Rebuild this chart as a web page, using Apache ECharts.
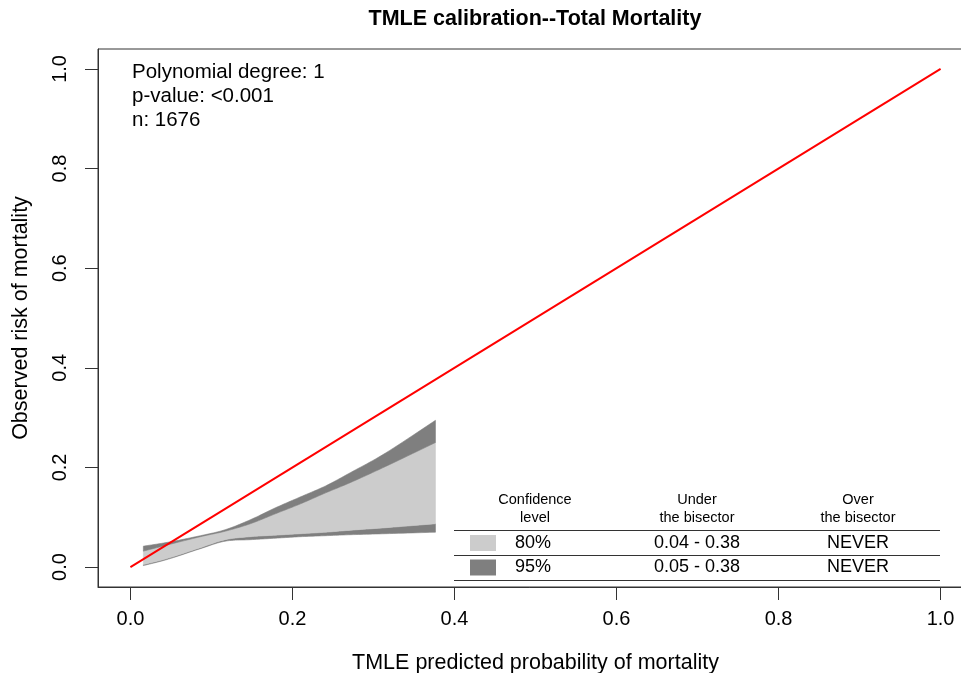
<!DOCTYPE html>
<html><head><meta charset="utf-8">
<script src="https://cdn.jsdelivr.net/npm/echarts@6/dist/echarts.min.js"></script>
<style>html,body{margin:0;padding:0;background:#fff}#c{width:961px;height:673px}</style>
</head><body><div id="c"></div>
<script>
// ---- data ----
const xPts    = [0.016, 0.047, 0.0864, 0.117, 0.148, 0.179, 0.210, 0.241, 0.272, 0.315, 0.3765];
const upper95 = [0.042, 0.050, 0.063,  0.075, 0.095, 0.119, 0.141, 0.163, 0.190, 0.229, 0.2945];
const upper80 = [0.032, 0.045, 0.061,  0.072, 0.087, 0.107, 0.127, 0.149, 0.170, 0.202, 0.250];
const lower80 = [0.005, 0.018, 0.039,  0.055, 0.061, 0.064, 0.067, 0.070, 0.074, 0.079, 0.087];
const lower95 = [0.003, 0.016, 0.037,  0.052, 0.055, 0.058, 0.061, 0.063, 0.065, 0.067, 0.070];
const bisectorX = [0, 1];
const bisectorY = [0, 1];
const xTicks = [0, 0.2, 0.4, 0.6, 0.8, 1.0];
const yTicks = [0, 0.2, 0.4, 0.6, 0.8, 1.0];
const annotations = ['Polynomial degree: 1', 'p-value: <0.001', 'n: 1676'];
const tableHeader = ['Confidence\nlevel', 'Under\nthe bisector', 'Over\nthe bisector'];
const tableRows = [['80%', '0.04 - 0.38', 'NEVER'], ['95%', '0.05 - 0.38', 'NEVER']];
const titleText = 'TMLE calibration--Total Mortality';
const xName = 'TMLE predicted probability of mortality';
const yName = 'Observed risk of mortality';

// ---- styles ----
const LIGHT = '#cccccc', DARK = '#7f7f7f', AX = '#333333';
const FONT = "'Liberation Sans', Arial, sans-serif";

const bands = [
  { lo: lower95, hi: lower80, color: DARK },
  { lo: lower80, hi: upper80, color: LIGHT },
  { lo: upper80, hi: upper95, color: DARK }
];

// smooth a pixel-space polyline (Catmull-Rom -> cubic Bezier), rendering only
function smoothPx(p) {
  const out = [p[0]];
  for (let i = 0; i < p.length - 1; i++) {
    const p0 = p[i - 1] || p[i], p1 = p[i], p2 = p[i + 1], p3 = p[i + 2] || p[i + 1];
    const c1 = [p1[0] + (p2[0] - p0[0]) / 6, p1[1] + (p2[1] - p0[1]) / 6];
    const c2 = [p2[0] - (p3[0] - p1[0]) / 6, p2[1] - (p3[1] - p1[1]) / 6];
    for (let s = 1; s <= 12; s++) {
      const t = s / 12, u = 1 - t;
      out.push([
        u*u*u*p1[0] + 3*u*u*t*c1[0] + 3*u*t*t*c2[0] + t*t*t*p2[0],
        u*u*u*p1[1] + 3*u*u*t*c1[1] + 3*u*t*t*c2[1] + t*t*t*p2[1]
      ]);
    }
  }
  return out;
}

const chart = echarts.init(document.getElementById('c'), null, { renderer: 'canvas' });

const colX = [535, 697, 858];
const swatchColors = [LIGHT, DARK];
const graphics = [];
const txt = (x, y, t, font, align, extra) => ({ type: 'text', x, y, z: 10, style: Object.assign({ text: t, font, fill: '#000', align, textAlign: align, verticalAlign: 'middle', textVerticalAlign: 'middle' }, extra || {}) });
graphics.push(txt(535, 19, titleText, 'bold 21.5px ' + FONT, 'center'));
annotations.forEach((t, i) => graphics.push(txt(132, 72 + i * 24, t, '20.5px ' + FONT, 'left')));
tableHeader.forEach((t, i) => graphics.push(txt(colX[i], 509, t, '14.5px ' + FONT, 'center', { lineHeight: 18 })));
[530.5, 555.5, 580.5].forEach(y => graphics.push({ type: 'line', z: 10, shape: { x1: 454, y1: y, x2: 940, y2: y }, style: { stroke: AX, lineWidth: 1 } }));
tableRows.forEach((row, r) => {
  const yc = 543 + r * 24.5;
  graphics.push({ type: 'rect', z: 10, shape: { x: 470, y: yc - 8, width: 26, height: 16 }, style: { fill: swatchColors[r] } });
  row.forEach((t, i) => graphics.push(txt(colX[i] - (i === 0 ? 2 : 0), yc, t, '18px ' + FONT, 'center')));
});

const option = {
  animation: false,
  backgroundColor: '#fff',
  grid: { left: 98, top: 49, width: 875, height: 538, containLabel: false, outerBoundsMode: 'none', show: true, borderColor: AX, borderWidth: 1, backgroundColor: 'transparent' },
  xAxis: {
    type: 'value', min: -0.04, max: 1.04,
    name: xName, nameLocation: 'middle', nameGap: 65,
    nameTextStyle: { fontSize: 21.5, fontFamily: FONT, color: '#000' },
    axisLine: { show: true, onZero: false, lineStyle: { color: AX, width: 1 } },
    axisTick: { show: true, inside: false, length: 13, customValues: xTicks, lineStyle: { color: AX } },
    axisLabel: { customValues: xTicks, formatter: v => v.toFixed(1), fontSize: 20, fontFamily: FONT, color: '#000', margin: 22 },
    splitLine: { show: false }
  },
  yAxis: {
    type: 'value', min: -0.04, max: 1.04,
    name: yName, nameLocation: 'middle', nameGap: 66, nameRotate: 90,
    nameTextStyle: { fontSize: 21.5, fontFamily: FONT, color: '#000' },
    axisLine: { show: true, onZero: false, lineStyle: { color: AX, width: 1 } },
    axisTick: { show: true, inside: false, length: 13, customValues: yTicks, lineStyle: { color: AX } },
    axisLabel: { customValues: yTicks, formatter: v => v.toFixed(1), rotate: 90, fontSize: 20, fontFamily: FONT, color: '#000', margin: 28 },
    splitLine: { show: false }
  },
  series: [
    {
      type: 'custom', name: 'bands', coordinateSystem: 'cartesian2d',
      data: bands.map((b, i) => [xPts[0], b.lo[0], i]),
      encode: { x: 0, y: 1 },
      silent: true, z: 2,
      renderItem: function (params, api) {
        const b = bands[params.dataIndex];
        const top = smoothPx(xPts.map((x, i) => api.coord([x, b.hi[i]])));
        const bot = smoothPx(xPts.map((x, i) => api.coord([x, b.lo[i]])));
        return { type: 'polygon', shape: { points: top.concat(bot.reverse()) }, style: { fill: b.color, stroke: b.color, lineWidth: 0.6 } };
      }
    },
    {
      type: 'line', name: 'bisector', data: bisectorX.map((x, i) => [x, bisectorY[i]]),
      symbol: 'none', lineStyle: { color: '#ff0000', width: 2 }, z: 5, silent: true
    }
  ],
  graphic: { elements: graphics }
};
chart.setOption(option);
</script>
</body></html>
